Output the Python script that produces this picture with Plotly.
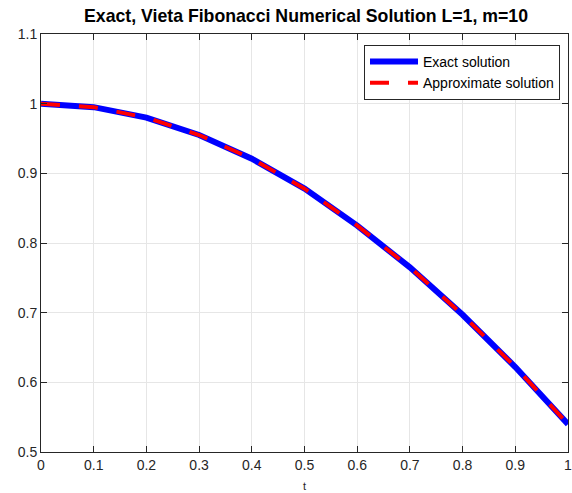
import plotly.graph_objects as go

t = [0.0, 0.1, 0.2, 0.3, 0.4, 0.5, 0.6, 0.7, 0.8, 0.9, 1.0]
exact = [1.0, 0.995, 0.980, 0.955, 0.921, 0.878, 0.825, 0.765, 0.697, 0.622, 0.540]
approx = [1.0, 0.995, 0.980, 0.955, 0.921, 0.878, 0.825, 0.765, 0.697, 0.622, 0.540]
xticks = [0, 0.1, 0.2, 0.3, 0.4, 0.5, 0.6, 0.7, 0.8, 0.9, 1]
xticklabels = ["0", "0.1", "0.2", "0.3", "0.4", "0.5", "0.6", "0.7", "0.8", "0.9", "1"]
yticks = [0.5, 0.6, 0.7, 0.8, 0.9, 1.0, 1.1]
yticklabels = ["0.5", "0.6", "0.7", "0.8", "0.9", "1", "1.1"]

FONT = "Liberation Sans, Arial, Helvetica"

fig = go.Figure()
fig.add_trace(go.Scatter(x=t, y=exact, mode="lines", name="Exact solution",
                         line=dict(color="#0000ff", width=6)))
fig.add_trace(go.Scatter(x=t, y=approx, mode="lines", name="Approximate solution",
                         line=dict(color="#ff0000", width=4, dash="19px,19px")))

axis_common = dict(showline=True, linecolor="#262626", linewidth=1, mirror="ticks",
                   ticks="inside", ticklen=6, tickcolor="#262626",
                   showgrid=True, gridcolor="#e6e6e6", gridwidth=1, zeroline=False,
                   automargin=False, ticklabeloverflow="allow",
                   tickfont=dict(family=FONT, size=14, color="#262626"))

fig.update_layout(
    width=572, height=493, autosize=False,
    paper_bgcolor="white", plot_bgcolor="white",
    margin=dict(l=41, r=4, t=34, b=41, pad=0),
    title=dict(text="<b>Exact, Vieta Fibonacci Numerical Solution L=1, m=10</b>",
               x=306 / 572, xanchor="center", y=1 - 16 / 493, yanchor="middle",
               font=dict(family=FONT, size=17.7, color="black")),
    xaxis=dict(range=[0, 1], tickvals=xticks, ticktext=xticklabels,
               title=dict(text="t", font=dict(family=FONT, size=11, color="#262626"), standoff=10),
               **axis_common),
    yaxis=dict(range=[0.5, 1.1], tickvals=yticks, ticktext=yticklabels, **axis_common),
    legend=dict(x=(560 - 41) / 527, y=(452 - 45) / 418,
                xanchor="right", yanchor="top",
                bgcolor="white", bordercolor="#262626", borderwidth=1,
                font=dict(family=FONT, size=14, color="black"),
                itemwidth=48, tracegroupgap=0),
    showlegend=True,
)

fig.write_html("out.html", config={"displayModeBar": False},
               post_script="document.body.style.margin='0';document.body.style.overflow='hidden';")
